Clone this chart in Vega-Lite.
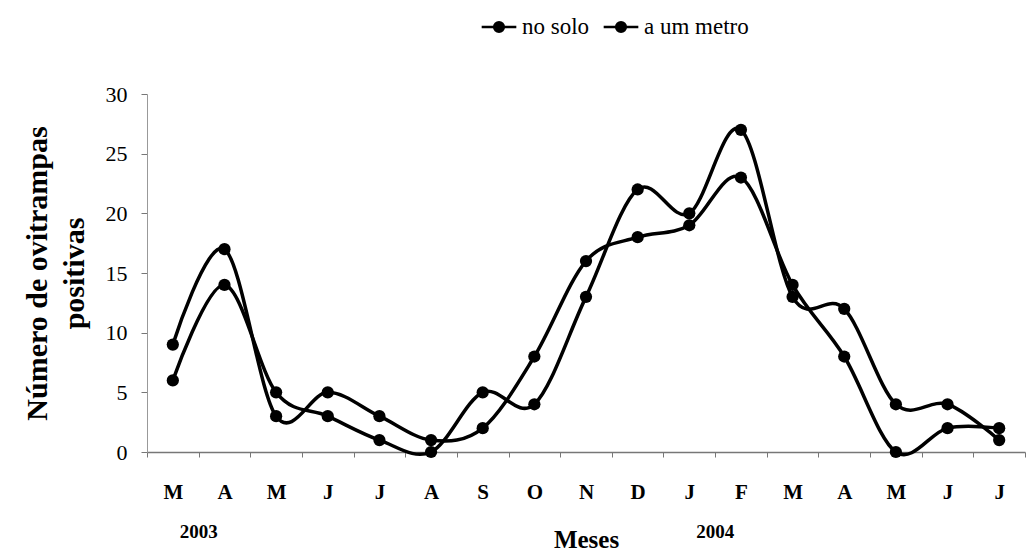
{
  "$schema": "https://vega.github.io/schema/vega-lite/v6.json",
  "width": 878,
  "height": 358,
  "padding": {"left": 22, "top": 8, "right": 2, "bottom": 0},
  "background": "white",
  "config": {
    "font": "Liberation Serif",
    "view": {"stroke": null},
    "legend": {"labelFont": "Liberation Serif, Times New Roman, serif", "labelFontSize": 23}
  },
  "data": {
    "values": [
      {"idx": 1, "mes": "M", "serie": "no solo", "valor": 9},
      {"idx": 2, "mes": "A", "serie": "no solo", "valor": 17},
      {"idx": 3, "mes": "M", "serie": "no solo", "valor": 3},
      {"idx": 4, "mes": "J", "serie": "no solo", "valor": 5},
      {"idx": 5, "mes": "J", "serie": "no solo", "valor": 3},
      {"idx": 6, "mes": "A", "serie": "no solo", "valor": 1},
      {"idx": 7, "mes": "S", "serie": "no solo", "valor": 2},
      {"idx": 8, "mes": "O", "serie": "no solo", "valor": 8},
      {"idx": 9, "mes": "N", "serie": "no solo", "valor": 16},
      {"idx": 10, "mes": "D", "serie": "no solo", "valor": 18},
      {"idx": 11, "mes": "J", "serie": "no solo", "valor": 19},
      {"idx": 12, "mes": "F", "serie": "no solo", "valor": 23},
      {"idx": 13, "mes": "M", "serie": "no solo", "valor": 14},
      {"idx": 14, "mes": "A", "serie": "no solo", "valor": 8},
      {"idx": 15, "mes": "M", "serie": "no solo", "valor": 0},
      {"idx": 16, "mes": "J", "serie": "no solo", "valor": 2},
      {"idx": 17, "mes": "J", "serie": "no solo", "valor": 2},
      {"idx": 1, "mes": "M", "serie": "a um metro", "valor": 6},
      {"idx": 2, "mes": "A", "serie": "a um metro", "valor": 14},
      {"idx": 3, "mes": "M", "serie": "a um metro", "valor": 5},
      {"idx": 4, "mes": "J", "serie": "a um metro", "valor": 3},
      {"idx": 5, "mes": "J", "serie": "a um metro", "valor": 1},
      {"idx": 6, "mes": "A", "serie": "a um metro", "valor": 0},
      {"idx": 7, "mes": "S", "serie": "a um metro", "valor": 5},
      {"idx": 8, "mes": "O", "serie": "a um metro", "valor": 4},
      {"idx": 9, "mes": "N", "serie": "a um metro", "valor": 13},
      {"idx": 10, "mes": "D", "serie": "a um metro", "valor": 22},
      {"idx": 11, "mes": "J", "serie": "a um metro", "valor": 20},
      {"idx": 12, "mes": "F", "serie": "a um metro", "valor": 27},
      {"idx": 13, "mes": "M", "serie": "a um metro", "valor": 13},
      {"idx": 14, "mes": "A", "serie": "a um metro", "valor": 12},
      {"idx": 15, "mes": "M", "serie": "a um metro", "valor": 4},
      {"idx": 16, "mes": "J", "serie": "a um metro", "valor": 4},
      {"idx": 17, "mes": "J", "serie": "a um metro", "valor": 1}
    ]
  },
  "layer": [
    {
      "mark": {"type": "line", "interpolate": "cardinal", "strokeWidth": 3.5},
      "encoding": {
        "x": {
          "field": "idx", "type": "ordinal", "bandPosition": 0.5,
          "scale": {"type": "band", "paddingInner": 0, "paddingOuter": 0},
          "axis": {
            "orient": "bottom",
            "title": "Meses",
            "titleFont": "Liberation Serif", "titleFontSize": 25, "titleFontWeight": "bold", "titleColor": "black",
            "titlePadding": 25,
            "labelExpr": "['','M','A','M','J','J','A','S','O','N','D','J','F','M','A','M','J','J'][datum.value]",
            "labelAngle": 0, "labelFontSize": 21, "labelFontWeight": "bold", "labelColor": "black",
            "labelPadding": 24,
            "tickBand": "extent", "tickSize": 5, "tickColor": "#777", "domainColor": "#777", "domainWidth": 1.5,
            "grid": false
          }
        },
        "y": {
          "field": "valor", "type": "quantitative",
          "scale": {"domain": [0, 30]},
          "axis": {
            "title": ["Número de ovitrampas", "positivas"],
            "titleFont": "Liberation Serif",
            "titleFontSize": 30, "titleFontWeight": "bold", "titleColor": "black",
            "titleLineHeight": 37, "titlePadding": 16,
            "values": [0, 5, 10, 15, 20, 25, 30],
            "labelFont": "Liberation Serif",
            "labelFontSize": 22, "labelColor": "black", "labelPadding": 14,
            "tickSize": 6, "tickColor": "#777", "domainColor": "#999",
            "grid": false
          }
        },
        "color": {
          "field": "serie", "type": "nominal",
          "scale": {"domain": ["no solo", "a um metro"], "range": ["black", "black"]},
          "legend": {
            "title": null,
            "orient": "none", "direction": "horizontal",
            "legendX": 333, "legendY": -86,
            "symbolType": "M-1,0H1M-0.28,0A0.28,0.28,0,1,1,0.28,0A0.28,0.28,0,1,1,-0.28,0Z",
            "symbolSize": 1200, "symbolStrokeWidth": 2.5, "symbolFillColor": "black", "symbolStrokeColor": "black",
            "labelColor": "black", "labelOffset": 4, "columnPadding": 8, "labelLimit": 300
          }
        }
      }
    },
    {
      "mark": {"type": "point", "filled": true, "size": 150, "opacity": 1},
      "encoding": {
        "x": {
          "field": "idx", "type": "ordinal", "bandPosition": 0.5,
          "scale": {"type": "band", "paddingInner": 0, "paddingOuter": 0},
          "axis": {
            "orient": "bottom",
            "title": null,
            "values": [1, 11],
            "labelExpr": "datum.value == 1 ? '2003' : '2004'",
            "labelFont": "Liberation Serif",
            "labelAngle": 0, "labelFontSize": 19, "labelFontWeight": "bold", "labelColor": "black",
            "labelOffset": 26, "labelPadding": 70,
            "ticks": false, "domain": false, "grid": false
          }
        },
        "y": {"field": "valor", "type": "quantitative", "scale": {"domain": [0, 30]}},
        "color": {
          "field": "serie", "type": "nominal",
          "scale": {"domain": ["no solo", "a um metro"], "range": ["black", "black"]},
          "legend": null
        }
      }
    }
  ],
  "resolve": {"axis": {"x": "independent"}}
}
